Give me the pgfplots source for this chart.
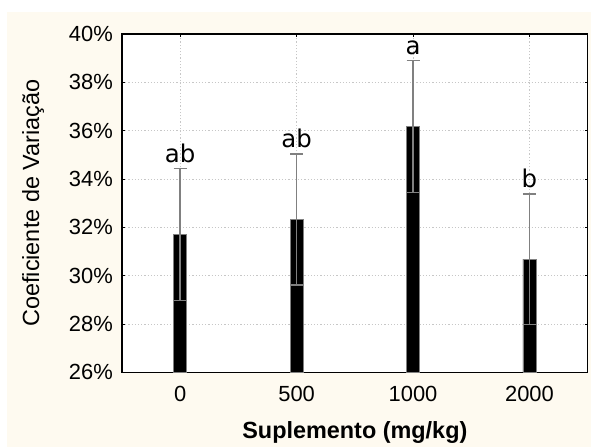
\documentclass[border=0pt]{standalone}
\usepackage{fontspec}
\setmainfont{Liberation Sans}
\newfontfamily\letterfont{DejaVu Sans}
\usepackage{pgfplots}
\pgfplotsset{compat=1.18}
\usepackage{pgfplotstable}
\definecolor{cream}{RGB}{254,250,240}
\definecolor{errgray}{RGB}{128,128,128}

% mean CV, standard error, error-bar top and Tukey letter
\pgfplotstableread{
x  cv     se    top    grp
0  31.70  2.73  34.43  ab
1  32.33  2.71  35.04  ab
2  36.17  2.73  38.90  a
3  30.68  2.70  33.38  b
}\cvdata

\begin{document}
\begin{tikzpicture}
\fill[white] (-122bp,-74.7bp) rectangle (469bp,372.3bp);
\fill[cream] (-115bp,-74.7bp) rectangle (469bp,360.3bp);
\begin{axis}[
    at={(0,0)}, anchor=south west,
    scale only axis,
    width=465.7bp, height=338.3bp,
    axis background/.style={fill=white},
    xmin=-0.5, xmax=3.5,
    ymin=26, ymax=40,
    xtick={0,1,2,3},
    xticklabels={0,500,1000,2000},
    ytick={26,28,...,40},
    yticklabel={\pgfmathprintnumber{\tick}\%},
    /pgf/number format/assume math mode=true,
    tick align=inside,
    major tick length=3bp,
    tick style={black, line width=0.8bp},
    axis line style={line width=1.5bp},
    grid=major,
    major grid style={black!22, dash pattern=on 1.2bp off 2bp, line width=0.7bp},
    ticklabel style={font=\fontsize{22}{26}\selectfont},
    xticklabel style={inner sep=0pt, yshift=-14bp},
    yticklabel style={inner sep=0pt, xshift=-9bp},
    label style={font=\fontsize{23.5}{28}\selectfont},
    xlabel={\bfseries Suplemento (mg/kg)},
    ylabel={Coeficiente de Variação},
    xlabel style={at={(axis description cs:0.5,-0.1449)}, anchor=north, inner sep=0pt},
    ylabel style={at={(axis description cs:-0.1911,0.5)}, anchor=center, inner sep=0pt},
    clip mode=individual,
]
    \addplot[ybar, bar width=13bp, fill=black, draw=errgray, line width=0.6bp,
        error bars/.cd, y dir=both, y explicit,
        error bar style={draw=errgray, line width=1.5bp},
        error mark options={rotate=90, draw=errgray, mark size=6.5bp, line width=1.5bp}]
        table[x=x, y=cv, y error=se] {\cvdata};
    \addplot[draw=none, mark=none, nodes near coords, point meta=explicit symbolic,
        nodes near coords style={font=\letterfont\fontsize{24.5}{28}\selectfont,
            anchor=south, inner sep=0pt, yshift=6bp}]
        table[x=x, y=top, meta=grp] {\cvdata};
\end{axis}
\end{tikzpicture}
\end{document}
